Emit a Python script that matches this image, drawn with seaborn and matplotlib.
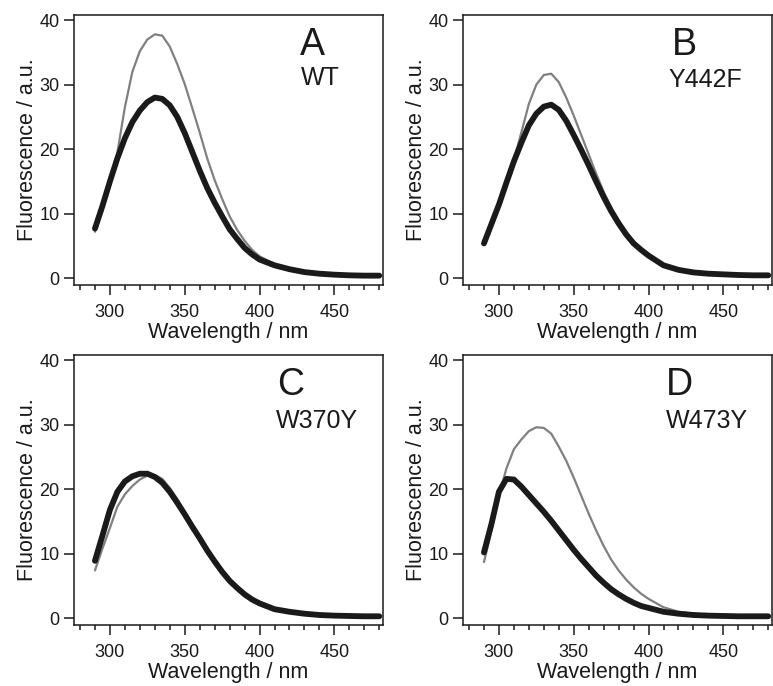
import numpy as np
import pandas as pd
import matplotlib
matplotlib.use("Agg")
import matplotlib.pyplot as plt
import seaborn as sns
from matplotlib.ticker import MultipleLocator

# ---------------- data ----------------
wavelength = [290, 295, 300, 305, 310, 315, 320, 325, 330, 335, 340, 345, 350,
              355, 360, 365, 370, 375, 380, 385, 390, 395, 400,
              410, 420, 430, 440, 450, 460, 470, 480]

panel_letters = ["A", "B", "C", "D"]
panel_names = ["WT", "Y442F", "W370Y", "W473Y"]

# thick black trace
wt_black = [7.7, 11.2, 15.0, 18.6, 21.7, 24.2, 26.0, 27.3, 28.0, 27.8, 26.8, 25.0, 22.5,
            19.6, 16.7, 14.0, 11.7, 9.6, 7.6, 6.1, 4.7, 3.7, 2.9,
            2.0, 1.4, 0.95, 0.7, 0.55, 0.45, 0.4, 0.4]
# thin gray trace
wt_gray = [7.2, 10.8, 14.6, 19.5, 26.5, 32.0, 35.2, 37.0, 37.8, 37.6, 35.9, 33.2, 30.1,
           26.4, 22.6, 18.6, 15.2, 12.3, 9.6, 7.5, 5.8, 4.4, 3.4,
           2.2, 1.5, 1.0, 0.7, 0.55, 0.45, 0.4, 0.4]

y442f_black = [5.4, 8.4, 11.4, 14.8, 18.1, 21.0, 23.7, 25.5, 26.6, 26.9, 26.1, 24.4, 22.2,
               19.9, 17.5, 15.0, 12.6, 10.4, 8.5, 6.8, 5.4, 4.4, 3.5,
               2.0, 1.3, 0.9, 0.7, 0.6, 0.5, 0.45, 0.45]
y442f_gray = [5.2, 8.3, 11.3, 14.8, 18.3, 22.6, 27.0, 30.0, 31.5, 31.7, 30.4, 28.0, 25.2,
              22.2, 19.2, 16.2, 13.4, 11.0, 9.0, 7.2, 5.7, 4.6, 3.7,
              2.1, 1.3, 0.9, 0.7, 0.6, 0.5, 0.45, 0.45]

w370y_black = [8.9, 12.8, 16.8, 19.6, 21.2, 22.0, 22.4, 22.4, 21.9, 21.0, 19.6, 17.9, 16.1,
               14.2, 12.4, 10.5, 8.8, 7.2, 5.8, 4.7, 3.7, 2.9, 2.3,
               1.4, 1.0, 0.7, 0.5, 0.4, 0.35, 0.3, 0.3]
w370y_gray = [7.4, 10.8, 14.0, 17.3, 19.2, 20.5, 21.5, 22.1, 22.2, 21.6, 20.2, 18.5, 16.5,
              14.6, 12.6, 10.7, 8.9, 7.3, 5.9, 4.7, 3.7, 2.9, 2.3,
              1.4, 1.0, 0.7, 0.5, 0.4, 0.35, 0.3, 0.3]

w473y_black = [10.2, 14.6, 19.6, 21.6, 21.5, 20.4, 19.1, 17.8, 16.5, 15.1, 13.6, 12.1, 10.6,
               9.2, 7.9, 6.6, 5.5, 4.5, 3.7, 3.0, 2.4, 1.9, 1.6,
               1.0, 0.7, 0.5, 0.4, 0.35, 0.3, 0.3, 0.3]
w473y_gray = [8.7, 13.5, 19.0, 23.2, 26.2, 27.7, 29.0, 29.6, 29.5, 28.6, 26.6, 24.4, 21.8,
              19.0, 16.2, 13.6, 11.2, 9.1, 7.4, 6.0, 4.8, 3.8, 3.0,
              1.7, 1.0, 0.7, 0.5, 0.4, 0.35, 0.3, 0.3]

black_series = [wt_black, y442f_black, w370y_black, w473y_black]
gray_series = [wt_gray, y442f_gray, w370y_gray, w473y_gray]

x_ticks = [300, 350, 400, 450]
y_ticks = [0, 10, 20, 30, 40]

# ---------------- style ----------------
sns.set_theme(style="ticks")
plt.rcParams["font.family"] = ["Liberation Sans", "DejaVu Sans"]
plt.rcParams["axes.edgecolor"] = "#1a1a1a"
plt.rcParams["axes.linewidth"] = 1.1

W, H = 773, 686
fig = plt.figure(figsize=(W / 100, H / 100), dpi=100)
fig.patch.set_facecolor("white")

# pixel boxes: left, top, right, bottom
boxes = [(74, 15, 383, 285), (463, 15, 772, 285),
         (74, 355, 383, 625), (463, 355, 772, 625)]
# text positions (axes fraction): letter x, letter y, name x, name y
text_pos = [(0.731, 0.852, 0.735, 0.740),
            (0.675, 0.852, 0.664, 0.733),
            (0.656, 0.852, 0.654, 0.730),
            (0.657, 0.852, 0.657, 0.730)]

ink = "#1a1a1a"
for i in range(4):
    l, t, r, b = boxes[i]
    ax = fig.add_axes([l / W, 1 - b / H, (r - l) / W, (b - t) / H])
    df = pd.DataFrame({"wavelength": wavelength,
                       "gray": gray_series[i],
                       "black": black_series[i]})
    sns.lineplot(data=df, x="wavelength", y="gray", ax=ax, color="#808080",
                 linewidth=1.6, estimator=None)
    sns.lineplot(data=df, x="wavelength", y="black", ax=ax, color=ink,
                 linewidth=4.2, estimator=None)
    ax.set_xlim(276, 482.5)
    ax.set_ylim(-1.05, 40.8)
    ax.set_xticks(x_ticks)
    ax.xaxis.set_minor_locator(MultipleLocator(10))
    ax.set_yticks(y_ticks)
    ax.tick_params(axis="both", which="major", direction="out", length=7.5,
                   width=1.1, color=ink, labelsize=13, labelcolor=ink)
    ax.tick_params(axis="x", which="major", pad=6)
    ax.tick_params(axis="y", which="major", pad=3)
    ax.tick_params(axis="x", which="minor", direction="out", length=3.8,
                   width=1.1, color=ink)
    ax.set_xlabel("Wavelength / nm", fontsize=15.5, color=ink, labelpad=1)
    ax.set_ylabel("Fluorescence / a.u.", fontsize=15.5, color=ink, labelpad=1)
    for s in ax.spines.values():
        s.set_visible(True)
        s.set_color(ink)
        s.set_linewidth(1.1)
    lx, ly, nx, ny = text_pos[i]
    ax.text(lx, ly, panel_letters[i], transform=ax.transAxes, fontsize=27,
            ha="left", va="baseline", color=ink)
    ax.text(nx, ny, panel_names[i], transform=ax.transAxes, fontsize=18,
            ha="left", va="baseline", color=ink)

fig.savefig("out.png", dpi=100, facecolor="white")
